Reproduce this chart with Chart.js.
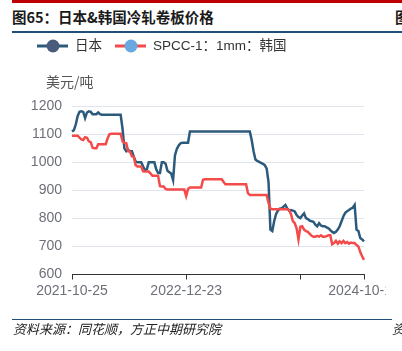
<!DOCTYPE html>
<html><head><meta charset="utf-8">
<script src="https://cdn.jsdelivr.net/npm/chart.js@4.4.1/dist/chart.umd.min.js"></script>
<style>
html,body{margin:0;padding:0;background:#fff;width:402px;height:351px;overflow:hidden;position:relative;font-family:"Noto Sans CJK SC",sans-serif;}
#redbar{position:absolute;left:12px;top:0;width:390px;height:3px;background:#c00000;}
#title{position:absolute;left:12px;top:6px;font-size:14.5px;font-weight:bold;color:#1a1a1a;line-height:22px;white-space:nowrap;}
#title2{position:absolute;left:395px;top:6px;font-size:14.5px;font-weight:bold;color:#1a1a1a;line-height:22px;white-space:nowrap;}
#hr1{position:absolute;left:12px;top:31px;width:390px;height:1.5px;background:#1f4e79;}
#yname{position:absolute;left:46px;top:71px;font-size:14px;color:#555;line-height:20px;white-space:nowrap;}
#chart{position:absolute;left:0;top:0;}
#hr2{position:absolute;left:12px;top:318.5px;width:380px;height:1.5px;background:#1f4e79;}
#src{position:absolute;left:13px;top:320px;font-size:13px;font-style:italic;color:#222;line-height:18px;white-space:nowrap;}
#src2{position:absolute;left:392px;top:320px;font-size:13px;font-style:italic;color:#222;line-height:18px;white-space:nowrap;}
</style></head>
<body>
<div id="redbar"></div>
<div id="title">图65：日本&amp;韩国冷轧卷板价格</div>
<div id="title2">图</div>
<div id="hr1"></div>
<canvas id="chart" width="386" height="351"></canvas>
<div id="yname">美元/吨</div>
<div id="hr2"></div>
<div id="src">资料来源：同花顺，方正中期研究院</div>
<div id="src2">资</div>
<script>
const dates = [
'2021-10-25','2021-10-29','2021-11-05','2021-11-12','2021-11-19','2021-11-26','2021-12-03','2021-12-10','2021-12-17','2021-12-24','2021-12-31',
'2022-01-07','2022-01-14','2022-01-21','2022-01-28','2022-02-04','2022-02-11','2022-02-18','2022-02-25',
'2022-03-04','2022-03-11','2022-03-18','2022-03-25','2022-04-01','2022-04-08','2022-04-15','2022-04-22','2022-04-29',
'2022-05-06','2022-05-13','2022-05-20','2022-05-27','2022-06-03','2022-06-10','2022-06-17','2022-06-24',
'2022-07-01','2022-07-08','2022-07-15','2022-07-22','2022-07-29','2022-08-05','2022-08-12','2022-08-19','2022-08-26',
'2022-09-02','2022-09-09','2022-09-16','2022-09-23','2022-09-30','2022-10-07','2022-10-14','2022-10-21','2022-10-28',
'2022-11-04','2022-11-11','2022-11-18','2022-11-25','2022-12-02','2022-12-09','2022-12-16','2022-12-23','2022-12-30',
'2023-01-06','2023-01-13','2023-01-20','2023-01-27','2023-02-03','2023-02-10','2023-02-17','2023-02-24',
'2023-03-03','2023-03-10','2023-03-17','2023-03-24','2023-03-31','2023-04-07','2023-04-14','2023-04-21','2023-04-28',
'2023-05-05','2023-05-12','2023-05-19','2023-05-26','2023-06-02','2023-06-09','2023-06-16','2023-06-23','2023-06-30',
'2023-07-07','2023-07-14','2023-07-21','2023-07-28','2023-08-04','2023-08-11','2023-08-18','2023-08-25',
'2023-09-01','2023-09-08','2023-09-15','2023-09-22','2023-09-29','2023-10-06','2023-10-13','2023-10-20','2023-10-27',
'2023-11-03','2023-11-10','2023-11-17','2023-11-24','2023-12-01','2023-12-08','2023-12-15','2023-12-22','2023-12-29',
'2024-01-05','2024-01-12','2024-01-19','2024-01-26','2024-02-02','2024-02-09','2024-02-16','2024-02-23',
'2024-03-01','2024-03-08','2024-03-15','2024-03-22','2024-03-29','2024-04-05','2024-04-12','2024-04-19','2024-04-26',
'2024-05-03','2024-05-10','2024-05-17','2024-05-24','2024-05-31','2024-06-07','2024-06-14','2024-06-21','2024-06-28',
'2024-07-05','2024-07-12','2024-07-19','2024-07-26','2024-08-02','2024-08-09','2024-08-16','2024-08-23','2024-08-30',
'2024-09-06','2024-09-13','2024-09-20','2024-09-27','2024-10-04','2024-10-11','2024-10-18'
];
const japan = [
1110,1115,1135,1165,1180,1182,1180,1158,1178,1182,
1180,1172,1172,1172,1178,1172,1170,1170,1170,1170,
1170,1170,1170,1170,1170,1170,1170,1120,1050,1040,
1045,1040,1040,1020,1003,1000,1000,1000,985,972,
975,1000,1000,1000,1000,975,962,962,1000,1000,
995,970,965,960,937,1025,1048,1060,1068,1070,
1070,1070,1070,1110,1110,1110,1110,1110,1110,1110,
1110,1110,1110,1110,1110,1110,1110,1110,1110,1110,
1110,1110,1110,1110,1110,1110,1110,1110,1110,1110,
1110,1110,1110,1110,1110,1110,1080,1040,1010,1005,
1002,998,995,990,978,930,760,755,790,815,
828,835,836,842,848,835,828,830,828,825,
812,805,801,810,818,801,798,792,790,788,
778,772,783,775,772,772,768,765,758,752,
748,752,760,772,790,808,820,826,830,835,
838,848,760,755,730,725,718
];
const korea = [
1095,1095,1095,1095,1088,1082,1080,1090,1088,1075,
1072,1052,1050,1050,1065,1065,1065,1065,1065,1085,
1100,1102,1102,1102,1102,1102,1102,1075,1070,1068,
1040,1038,1022,1020,990,985,985,985,968,967,
967,967,960,952,952,952,952,915,914,914,
905,903,903,903,903,903,903,903,903,903,
903,880,905,910,910,910,910,910,910,910,
938,940,940,940,940,940,940,940,940,940,
940,930,922,922,922,922,922,922,922,922,
922,922,922,922,890,884,884,884,884,884,
884,884,884,884,884,855,835,833,833,833,
833,833,833,833,833,833,830,815,790,783,
765,725,770,772,760,755,752,745,738,735,
735,738,735,740,735,735,737,740,740,708,
712,720,710,718,712,720,712,716,710,714,
712,712,705,700,680,665,652
];
const seriesNames = ['日本', 'SPCC-1：1mm：韩国'];
const yTickValues = [600, 700, 800, 900, 1000, 1100, 1200];
const xTickDates = ['2021-10-25', '2022-12-23', '2024-02-23', '2024-10-18'];
const xHiddenLabels = ['2024-02-23'];

const tickFont = {family: '"Liberation Sans","Noto Sans CJK SC",sans-serif', size: 14};
const tickColor = '#6e7079';

const legendPlugin = {
  id: 'customLegend',
  afterDraw(chart) {
    const ctx = chart.ctx;
    const starts = [37, 115];
    chart.data.datasets.forEach((ds, i) => {
      const x0 = starts[i], y = 46;
      ctx.save();
      ctx.strokeStyle = ds.borderColor; ctx.lineWidth = 3;
      ctx.beginPath(); ctx.moveTo(x0, y); ctx.lineTo(x0 + 31, y); ctx.stroke();
      ctx.fillStyle = ds.pointBackgroundColor;
      ctx.beginPath(); ctx.arc(x0 + 16, y, 6.5, 0, Math.PI * 2); ctx.fill();
      ctx.fillStyle = '#333';
      ctx.font = '13.5px "Liberation Sans","Noto Sans CJK SC",sans-serif';
      ctx.textBaseline = 'middle';
      ctx.fillText(ds.label, x0 + 38, y + 0.5);
      ctx.restore();
    });
  }
};

new Chart(document.getElementById('chart'), {
  type: 'line',
  data: {
    labels: dates,
    datasets: [
      {label: seriesNames[0], data: japan, borderColor: '#2c5a7c', pointBackgroundColor: '#4a5b7b',
       borderWidth: 2.5, pointRadius: 0, tension: 0, order: 1},
      {label: seriesNames[1], data: korea, borderColor: '#f44a4a', pointBackgroundColor: '#6aa8e0',
       borderWidth: 2.5, pointRadius: 0, tension: 0, order: 0}
    ]
  },
  options: {
    responsive: false,
    animation: false,
    events: [],
    layout: {padding: {left: 0, right: 22, top: 106.3, bottom: 46.5}},
    plugins: {legend: {display: false}, tooltip: {enabled: false}},
    scales: {
      x: {
        type: 'category',
        grid: {drawOnChartArea: false, drawTicks: true, tickLength: 5, color: '#333', lineWidth: 1},
        border: {display: true, color: '#333', width: 1},
        afterBuildTicks(scale) {
          scale.ticks = xTickDates.map(d => ({value: dates.indexOf(d)}));
        },
        afterFit(scale) { scale.paddingLeft = 0; scale.paddingRight = 0; scale.height = 30; },
        ticks: {
          autoSkip: false, maxRotation: 0, minRotation: 0, padding: 3,
          font: tickFont, color: tickColor,
          callback(value) { const d = dates[value]; return xHiddenLabels.includes(d) ? '' : d; }
        }
      },
      y: {
        min: 600, max: 1200,
        afterBuildTicks(scale) { scale.ticks = yTickValues.map(v => ({value: v})); },
        afterFit(scale) { scale.width = 72; },
        grid: {color: '#e0e4ed', lineWidth: 1, drawTicks: false},
        border: {display: false},
        ticks: {padding: 10, font: tickFont, color: tickColor, callback: v => String(v)}
      }
    }
  },
  plugins: [legendPlugin]
});
</script>
</body></html>
